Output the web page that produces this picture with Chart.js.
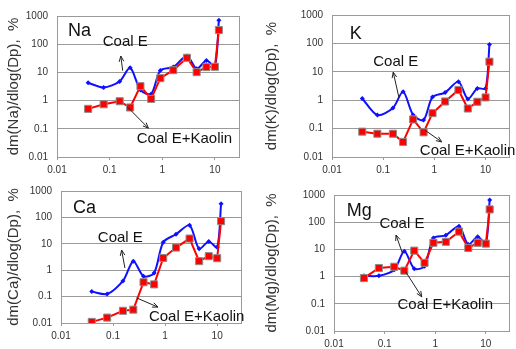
<!DOCTYPE html>
<html>
<head>
<meta charset="utf-8">
<script src="https://cdn.jsdelivr.net/npm/chart.js@4"></script>
<style>
  html, body { margin: 0; padding: 0; background: #fff; }
  #wrap { position: relative; width: 516px; height: 349px; overflow: hidden; }
  .panel { position: absolute; }
</style>
</head>
<body>
<div id="wrap">
  <div class="panel" style="left:0;top:0;width:258px;height:175px"><canvas id="naChart"></canvas></div>
  <div class="panel" style="left:258px;top:0;width:258px;height:175px"><canvas id="kChart"></canvas></div>
  <div class="panel" style="left:0;top:175px;width:258px;height:174px"><canvas id="caChart"></canvas></div>
  <div class="panel" style="left:258px;top:175px;width:258px;height:174px"><canvas id="mgChart"></canvas></div>
</div>
<script>
// particle size (um) of each impactor stage
const stages = [0.039, 0.077, 0.155, 0.245, 0.385, 0.615, 0.92, 1.62, 2.95, 4.5, 6.9, 10, 11.9];

const xTicks = [0.01, 0.1, 1, 10];
const yTicks = [0.01, 0.1, 1, 10, 100, 1000];

// dm/dlog(Dp), %
const naCoal   = [4.3, 2.9, 4.8, 14.6, 2.4, 1.7, 11.7, 15.4, 37.8, 13.4, 26.5, 16.7, 700];
const naKaolin = [0.51, 0.74, 0.95, 0.57, 3.25, 1.15, 6.25, 12, 33, 10.2, 15.4, 15.8, 318];
const kCoal    = [1.15, 0.3, 0.53, 2.0, 0.3, 0.2, 1.3, 1.86, 4.5, 1.1, 2.6, 2.6, 91];
const kKaolin  = [0.078, 0.066, 0.066, 0.034, 0.21, 0.074, 0.35, 0.9, 2.3, 0.51, 0.88, 1.25, 22.7];
const caCoal   = [0.155, 0.126, 0.39, 2.2, 0.59, 0.79, 11.5, 23, 50, 6.5, 12.3, 7.4, 330];
const caKaolin = [0.011, 0.016, 0.029, 0.032, 0.35, 0.29, 2.9, 7.2, 15.8, 2.2, 3.4, 2.85, 72];
const mgCoal   = [1.07, 1.07, 1.8, 8.5, 1.95, 2.4, 26, 33, 71, 15, 29, 16.5, 650];
const mgKaolin = [0.88, 2.07, 2.3, 1.65, 9.0, 3.2, 17.5, 19, 45, 11.3, 17.5, 16.3, 295];

const FONT = '"Liberation Sans", Arial, sans-serif';

// labels and arrows, placed in data units
const naNotes = { name: 'Na', nameAt: [0.0162, 294], coalAt: [0.074, 125], kaolinAt: [0.327, 0.0436],
  arrows: [[0.177, 11.5, 0.163, 38], [0.221, 0.58, 0.545, 0.105]] };
const kNotes  = { name: 'K', nameAt: [0.0222, 219], coalAt: [0.0638, 23.3], kaolinAt: [0.52, 0.016],
  arrows: [[0.203, 1.24, 0.157, 9.7], [0.66, 0.087, 1.39, 0.034]] };
const caNotes = { name: 'Ca', nameAt: [0.017, 227], coalAt: [0.051, 16.6], kaolinAt: [0.489, 0.017],
  arrows: [[0.169, 1.21, 0.146, 5.8], [0.284, 0.089, 0.728, 0.040]] };
const mgNotes = { name: 'Mg', nameAt: [0.0178, 258], coalAt: [0.079, 86], kaolinAt: [0.18, 0.091],
  arrows: [[0.225, 7.2, 0.168, 33.8], [0.26, 1.51, 0.542, 0.18]] };

const notePlugin = {
  id: 'notes',
  beforeDatasetsDraw(chart) {
    const a = chart.chartArea, c = chart.ctx;
    c.save();
    c.strokeStyle = '#9a9a9a';
    c.lineWidth = 1;
    c.strokeRect(Math.round(a.left) + 0.5, Math.round(a.top) + 0.5,
      Math.round(a.right - a.left) - 1, Math.round(a.bottom - a.top));
    c.restore();
  },
  afterDatasetsDraw(chart, args, opts) {
    const c = chart.ctx, xs = chart.scales.x, ys = chart.scales.y;
    const px = p => [xs.getPixelForValue(p[0]), ys.getPixelForValue(p[1])];
    c.save();
    c.fillStyle = '#111';
    c.textAlign = 'left';
    c.textBaseline = 'middle';
    let p = px(opts.nameAt);
    c.font = '18px ' + FONT;
    c.fillText(opts.name, p[0], p[1]);
    c.font = '15px ' + FONT;
    p = px(opts.coalAt);
    c.fillText('Coal E', p[0], p[1]);
    p = px(opts.kaolinAt);
    c.fillText('Coal E+Kaolin', p[0], p[1]);
    c.strokeStyle = '#222';
    c.lineWidth = 1;
    opts.arrows.forEach(ar => {
      const [x1, y1] = px([ar[0], ar[1]]);
      const [x2, y2] = px([ar[2], ar[3]]);
      const ang = Math.atan2(y2 - y1, x2 - x1);
      c.beginPath();
      c.moveTo(x1, y1);
      c.lineTo(x2, y2);
      c.moveTo(x2 - 6 * Math.cos(ang - 0.4), y2 - 6 * Math.sin(ang - 0.4));
      c.lineTo(x2, y2);
      c.lineTo(x2 - 6 * Math.cos(ang + 0.4), y2 - 6 * Math.sin(ang + 0.4));
      c.stroke();
    });
    c.restore();
  }
};

function makeChart(id, element, coal, kaolin, notes, box) {
  const pts = vals => stages.map((s, i) => ({ x: s, y: vals[i] }));
  return new Chart(document.getElementById(id), {
    type: 'line',
    data: {
      datasets: [{
        label: 'Coal E+Kaolin',
        data: pts(kaolin),
        borderColor: '#ff0000',
        borderWidth: 2,
        backgroundColor: '#ff0000',
        pointStyle: 'rect',
        pointRadius: 5,
        pointBorderColor: '#8c8c8c',
        pointBorderWidth: 1,
        tension: 0
      }, {
        label: 'Coal E',
        data: pts(coal),
        borderColor: '#1010ff',
        borderWidth: 2,
        backgroundColor: '#1010ff',
        pointStyle: 'rectRot',
        pointRadius: 2.5,
        pointBorderWidth: 0,
        tension: 0.28
      }]
    },
    options: {
      responsive: true,
      maintainAspectRatio: false,
      animation: false,
      layout: { padding: { top: box.top, right: box.right, left: 0, bottom: 0 } },
      plugins: {
        legend: { display: false },
        tooltip: { enabled: false },
        notes: notes
      },
      scales: {
        x: {
          type: 'logarithmic',
          min: 0.01,
          max: 30,
          afterBuildTicks: s => { s.ticks = xTicks.map(v => ({ value: v })); },
          afterFit: s => { s.height = box.bottom; },
          border: { display: false },
          grid: { drawOnChartArea: false, tickLength: 3, color: '#9a9a9a' },
          ticks: {
            autoSkip: false, maxRotation: 0, minRotation: 0, padding: 4,
            color: '#333', font: { family: FONT, size: 10 },
            callback: v => String(v)
          }
        },
        y: {
          type: 'logarithmic',
          min: 0.01,
          max: 1000,
          afterBuildTicks: s => { s.ticks = yTicks.map(v => ({ value: v })); },
          afterFit: s => { s.width = box.left; },
          border: { display: false },
          grid: { drawTicks: false, color: '#9a9a9a' },
          ticks: {
            autoSkip: false, padding: 9,
            color: '#333', font: { family: FONT, size: 10 },
            callback: v => String(v)
          },
          title: {
            display: true,
            text: 'dm(' + element + ')/dlog(Dp),  %',
            color: '#333',
            font: { family: FONT, size: 15 },
            padding: { top: 5, bottom: 0 }
          }
        }
      }
    },
    plugins: [notePlugin]
  });
}

makeChart('naChart', 'Na', naCoal, naKaolin, naNotes, { top: 16, right: 18, left: 57, bottom: 18 });
makeChart('kChart',  'K',  kCoal,  kKaolin,  kNotes,  { top: 13, right: 4,  left: 74, bottom: 18 });
makeChart('caChart', 'Ca', caCoal, caKaolin, caNotes, { top: 16, right: 16, left: 61, bottom: 26 });
makeChart('mgChart', 'Mg', mgCoal, mgKaolin, mgNotes, { top: 20, right: 1,  left: 76, bottom: 18 });
</script>
</body>
</html>
